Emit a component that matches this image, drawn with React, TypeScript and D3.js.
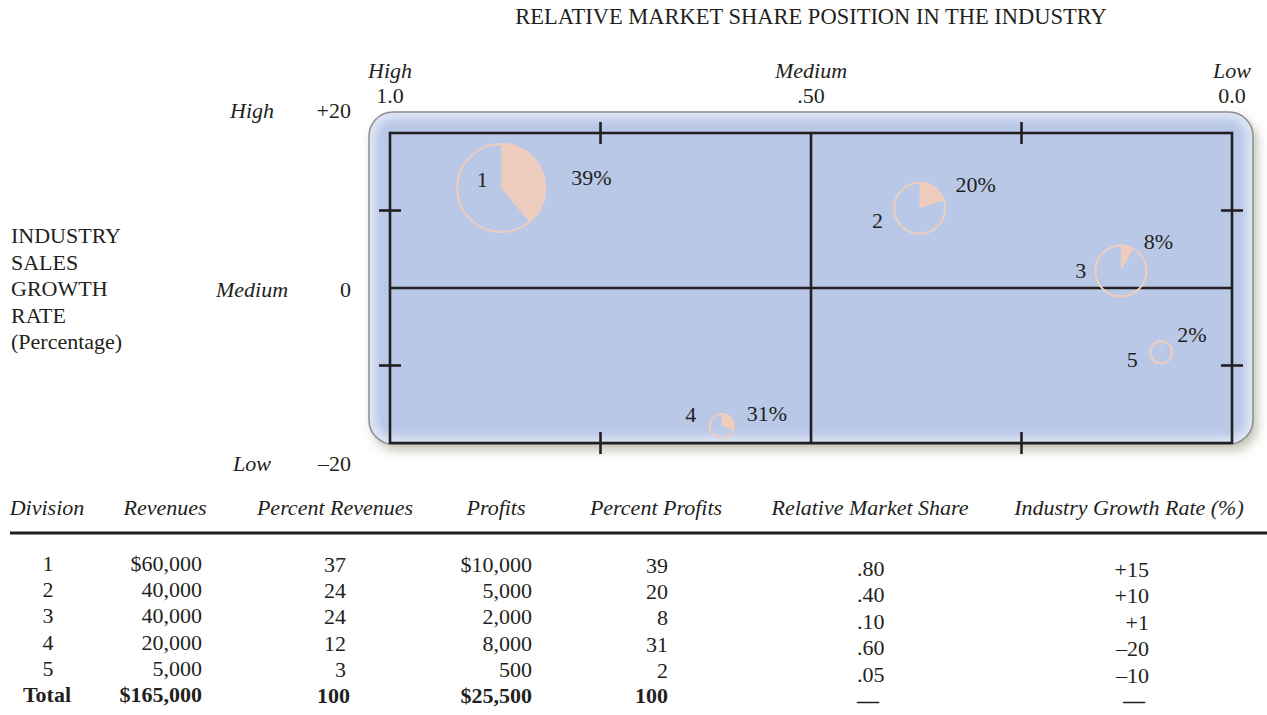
import { useEffect, useRef } from 'react';
import * as d3 from 'd3';

const divisions = ['1', '2', '3', '4', '5'];
const revenues = [60000, 40000, 40000, 20000, 5000];
const percentRevenues = [37, 24, 24, 12, 3];
const profits = [10000, 5000, 2000, 8000, 500];
const percentProfits = [39, 20, 8, 31, 2];
const relativeShare = [0.8, 0.4, 0.1, 0.6, 0.05];
const growthRate = [15, 10, 1, -20, -10];
const totalRevenue = 165000;
const totalPercent = 100;
const totalProfit = 25500;

// where the bubbles actually sit in the figure (read off the plot, not the table)
const plottedShare = [0.868, 0.371, 0.132, 0.606, 0.084];
const plottedGrowth = [12.9, 10.3, 2.2, -17.8, -8.3];

const shareTicks = [1, 0.5, 0];
const shareTickLabels = ['1.0', '.50', '0.0'];
const shareMinorTicks = [0.75, 0.25];
const levelNames = ['High', 'Medium', 'Low'];
const growthTicks = [20, 0, -20];
const growthTickLabels = ['+20', '0', '–20'];
const growthMinorTicks = [10, -10];
const yAxisTitle = ['INDUSTRY', 'SALES', 'GROWTH', 'RATE', '(Percentage)'];
const chartTitle = 'RELATIVE MARKET SHARE POSITION IN THE INDUSTRY';
const tableHeaders = [
  'Division',
  'Revenues',
  'Percent Revenues',
  'Profits',
  'Percent Profits',
  'Relative Market Share',
  'Industry Growth Rate (%)'
];

const W = 1267;
const H = 715;
const FONT = '"Liberation Serif", "Times New Roman", serif';
const INK = '#231f20';
const PEACH = '#efcdbe';

// label placement around each bubble (dx, dy from centre)
const numberOffsets = [[-19, -1], [-42, 20], [-40, 7], [-31, -4], [-29, 15]];
const percentOffsets = [[70, -3], [36, -16], [23, -22], [25, -5], [16, -10]];

export default function App() {
  const svgRef = useRef<SVGSVGElement>(null);

  useEffect(() => {
    if (!svgRef.current) return;
    const svg = d3.select(svgRef.current);
    svg.selectAll('*').remove();

    const x = d3.scaleLinear().domain([1, 0]).range([390, 1232]);
    const y = d3.scaleLinear().domain([20, -20]).range([133, 443]);
    const r = d3.scaleLinear().domain([5000, 20000, 40000, 60000]).range([12, 13, 26.5, 45]);

    const defs = svg.append('defs');
    const shadow = defs.append('filter').attr('id', 'panelShadow')
      .attr('x', '-10%').attr('y', '-15%').attr('width', '125%').attr('height', '140%');
    shadow.append('feDropShadow')
      .attr('dx', 4).attr('dy', 6).attr('stdDeviation', 6)
      .attr('flood-color', '#6f6f55').attr('flood-opacity', 0.45);
    defs.append('filter').attr('id', 'glowBlur')
      .append('feGaussianBlur').attr('stdDeviation', 4);

    const px0 = x(1) - 21;
    const py0 = y(20) - 21;
    const pw = x(0) - x(1) + 42;
    const ph = y(-20) - y(20) + 22;

    defs.append('clipPath').attr('id', 'panelClip')
      .append('rect')
      .attr('x', px0).attr('y', py0).attr('width', pw).attr('height', ph).attr('rx', 24);

    // panel
    svg.append('rect')
      .attr('x', px0).attr('y', py0).attr('width', pw).attr('height', ph).attr('rx', 24)
      .attr('fill', '#b9c8e7')
      .attr('filter', 'url(#panelShadow)');
    svg.append('rect')
      .attr('x', px0).attr('y', py0).attr('width', pw).attr('height', ph).attr('rx', 24)
      .attr('fill', 'none')
      .attr('stroke', '#dfe6f6')
      .attr('stroke-width', 14)
      .attr('filter', 'url(#glowBlur)')
      .attr('clip-path', 'url(#panelClip)');
    svg.append('rect')
      .attr('x', px0).attr('y', py0).attr('width', pw).attr('height', ph).attr('rx', 24)
      .attr('fill', 'none')
      .attr('stroke', '#8d8d8d')
      .attr('stroke-width', 1.5);

    // grid
    const grid = svg.append('g').attr('stroke', INK).attr('stroke-width', 2.6).attr('fill', 'none');
    grid.append('rect')
      .attr('x', x(1)).attr('y', y(20))
      .attr('width', x(0) - x(1)).attr('height', y(-20) - y(20));
    grid.append('line').attr('x1', x(0.5)).attr('x2', x(0.5)).attr('y1', y(20)).attr('y2', y(-20));
    grid.append('line').attr('x1', x(1)).attr('x2', x(0)).attr('y1', y(0)).attr('y2', y(0));
    shareMinorTicks.forEach((s) => {
      [y(20), y(-20)].forEach((yy) => {
        grid.append('line').attr('x1', x(s)).attr('x2', x(s)).attr('y1', yy - 11).attr('y2', yy + 11);
      });
    });
    growthMinorTicks.forEach((g) => {
      [x(1), x(0)].forEach((xx) => {
        grid.append('line').attr('x1', xx - 11).attr('x2', xx + 11).attr('y1', y(g)).attr('y2', y(g));
      });
    });

    const text = svg.append('g').attr('font-family', FONT).attr('fill', INK).attr('font-size', 22);

    text.append('text')
      .attr('x', 811).attr('y', 24)
      .attr('text-anchor', 'middle')
      .attr('font-size', 22.5)
      .text(chartTitle);

    // top axis
    shareTicks.forEach((s, i) => {
      text.append('text')
        .attr('x', x(s)).attr('y', 78)
        .attr('text-anchor', 'middle').attr('font-style', 'italic')
        .text(levelNames[i]);
      text.append('text')
        .attr('x', x(s)).attr('y', 103)
        .attr('text-anchor', 'middle')
        .text(shareTickLabels[i]);
    });

    // left axis
    const leftDy = [-15, 9, 28];
    growthTicks.forEach((g, i) => {
      text.append('text')
        .attr('x', 252).attr('y', y(g) + leftDy[i])
        .attr('text-anchor', 'middle').attr('font-style', 'italic')
        .text(levelNames[i]);
      text.append('text')
        .attr('x', 351).attr('y', y(g) + leftDy[i])
        .attr('text-anchor', 'end')
        .text(growthTickLabels[i]);
    });

    yAxisTitle.forEach((line, i) => {
      text.append('text')
        .attr('x', 11).attr('y', 243 + i * 26.5)
        .text(line);
    });

    // bubbles
    const arc = d3.arc<any>().innerRadius(0);
    divisions.forEach((d, i) => {
      const cx = x(plottedShare[i]);
      const cy = y(plottedGrowth[i]);
      const rad = r(revenues[i]);
      const g = svg.append('g').attr('transform', `translate(${cx},${cy})`);
      g.append('path')
        .attr('d', arc({ outerRadius: rad, startAngle: 0, endAngle: (2 * Math.PI * percentProfits[i]) / 100 }))
        .attr('fill', PEACH);
      g.append('circle')
        .attr('r', rad - 1)
        .attr('fill', 'none')
        .attr('stroke', PEACH)
        .attr('stroke-width', 2);

      text.append('text')
        .attr('x', cx + numberOffsets[i][0]).attr('y', cy + numberOffsets[i][1])
        .attr('text-anchor', 'middle')
        .text(d);
      text.append('text')
        .attr('x', cx + percentOffsets[i][0]).attr('y', cy + percentOffsets[i][1])
        .text(`${percentProfits[i]}%`);
    });

    // table
    const headerX = [47, 165, 335, 496, 656, 870, 1129];
    tableHeaders.forEach((h, i) => {
      text.append('text')
        .attr('x', headerX[i]).attr('y', 515)
        .attr('text-anchor', 'middle').attr('font-style', 'italic')
        .text(h);
    });
    svg.append('line')
      .attr('x1', 10).attr('x2', W).attr('y1', 533).attr('y2', 533)
      .attr('stroke', INK).attr('stroke-width', 3);

    const rowLeft = d3.scaleLinear().domain([0, 5]).range([571, 702]);
    const rowRight = d3.scaleLinear().domain([0, 5]).range([576, 708]);
    const comma = d3.format(',');
    const shareFmt = (v: number) => d3.format('.2f')(v).replace(/^0/, '');
    const growthFmt = (v: number) => (v > 0 ? `+${v}` : `–${Math.abs(v)}`);

    const cell = (s: string, xx: number, yy: number, anchor: string, bold = false) =>
      text.append('text')
        .attr('x', xx).attr('y', yy)
        .attr('text-anchor', anchor)
        .attr('font-size', 22)
        .attr('font-weight', bold ? 'bold' : null)
        .text(s);

    divisions.forEach((d, i) => {
      cell(d, 48, rowLeft(i), 'middle');
      cell((i === 0 ? '$' : '') + comma(revenues[i]), 202, rowLeft(i), 'end');
      cell(String(percentRevenues[i]), 346, rowLeft(i) + 1, 'end');
      cell((i === 0 ? '$' : '') + comma(profits[i]), 532, rowLeft(i) + 1, 'end');
      cell(String(percentProfits[i]), 668, rowLeft(i) + 2, 'end');
      cell(shareFmt(relativeShare[i]), 857, rowRight(i), 'start');
      cell(growthFmt(growthRate[i]), 1149, rowRight(i) + 1, 'end');
    });
    cell('Total', 47, rowLeft(5), 'middle', true);
    cell('$' + comma(totalRevenue), 202, rowLeft(5), 'end', true);
    cell(String(totalPercent), 350, rowLeft(5) + 1, 'end', true);
    cell('$' + comma(totalProfit), 532, rowLeft(5) + 1, 'end', true);
    cell(String(totalPercent), 668, rowLeft(5) + 1, 'end', true);
    cell('—', 857, rowRight(5), 'start', true);
    cell('—', 1145, rowRight(5), 'end', true);
  }, []);

  return (
    <svg
      ref={svgRef}
      width={W}
      height={H}
      style={{ position: 'absolute', left: 0, top: 0, background: '#fff' }}
    />
  );
}
